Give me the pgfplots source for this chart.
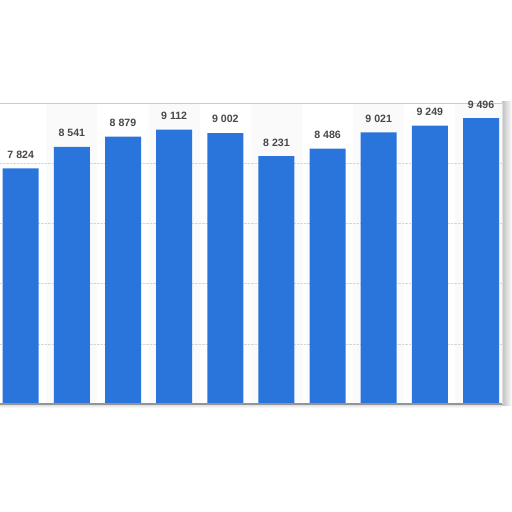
\documentclass[border=0pt]{standalone}
\usepackage{pgfplots}
\pgfplotsset{compat=1.18}
\usepackage{fontspec}
\setmainfont{Liberation Sans}
\definecolor{barblue}{HTML}{2A75DB}
\definecolor{labelgray}{HTML}{484848}

\begin{document}
\begin{tikzpicture}[x=1pt,y=1pt]
% shadow at the right of the panel
\shade[left color=black!25, right color=white] (502,106) rectangle (512,410);
\shade[top color=black!15, bottom color=white] (0,104) rectangle (502,108);
\begin{axis}[
    at={(0pt,108pt)}, anchor=south west,
    scale only axis, width=502pt, height=301pt,
    xmin=-0.405, xmax=9.41,
    ymin=0, ymax=10000,
    axis line style={draw=none},
    xtick=\empty, ytick=\empty,
    clip=false,
    every node near coord/.append style={
        font=\bfseries\fontsize{10.6}{12}\selectfont,
        text=labelgray, yshift=6.5pt},
]
% faint column bands
\fill[black!2] (axis cs:0.5,0) rectangle (axis cs:1.5,10000);
\fill[black!2] (axis cs:2.5,0) rectangle (axis cs:3.5,10000);
\fill[black!2] (axis cs:4.5,0) rectangle (axis cs:5.5,10000);
\fill[black!2] (axis cs:6.5,0) rectangle (axis cs:7.5,10000);
\fill[black!2] (axis cs:8.5,0) rectangle (axis cs:9.41,10000);
% dotted grid
\draw[densely dotted, black!16] (axis cs:-0.405,2000) -- (axis cs:9.41,2000);
\draw[densely dotted, black!16] (axis cs:-0.405,4000) -- (axis cs:9.41,4000);
\draw[densely dotted, black!16] (axis cs:-0.405,6000) -- (axis cs:9.41,6000);
\draw[densely dotted, black!16] (axis cs:-0.405,8000) -- (axis cs:9.41,8000);
\draw[black!20, line width=0.8pt] (axis cs:-0.405,10000) -- (axis cs:9.41,10000);
\draw[black!12, line width=0.8pt] (axis cs:9.41,0) -- (axis cs:9.41,10000);

\addplot[ybar, bar width=36pt, bar shift=0pt, fill=barblue, draw=none,
    nodes near coords, point meta=explicit symbolic] coordinates {
    (0,7824) [7 824]
    (1,8541) [8 541]
    (2,8879) [8 879]
    (3,9112) [9 112]
    (4,9002) [9 002]
    (5,8231) [8 231]
    (6,8486) [8 486]
    (7,9021) [9 021]
    (8,9249) [9 249]
    (9,9496) [9 496]
};

\draw[black!42, line width=1.3pt] (axis cs:-0.405,0) -- (axis cs:9.41,0);
\end{axis}
\pgfresetboundingbox
\path (0,0) rectangle (512,512);
\end{tikzpicture}
\end{document}
